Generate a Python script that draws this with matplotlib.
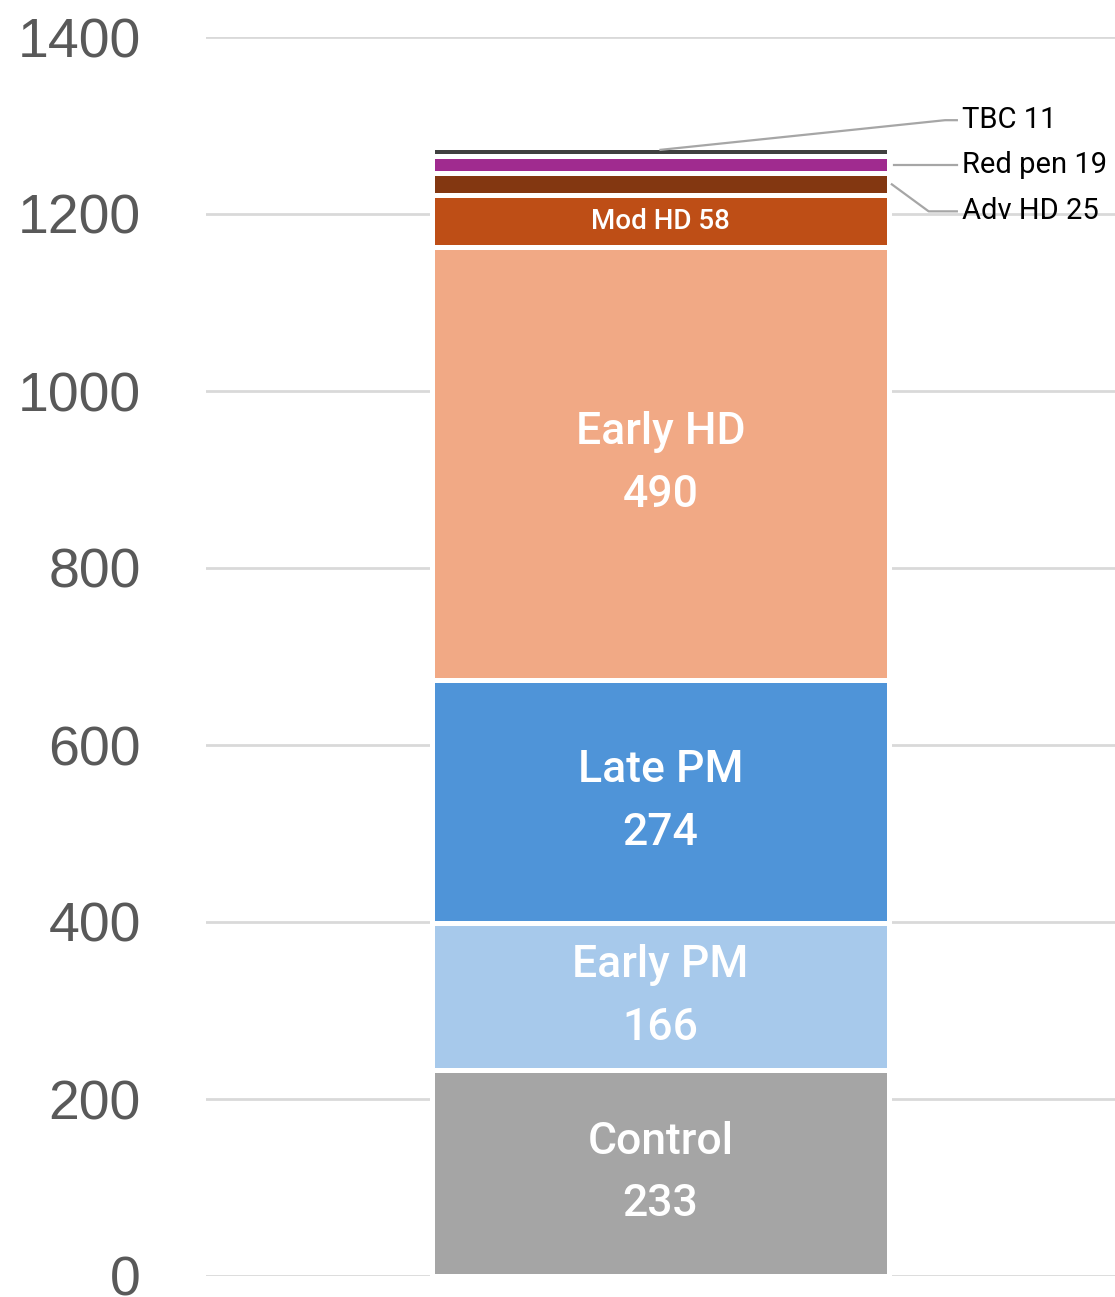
import matplotlib.pyplot as plt
import matplotlib.transforms as mtransforms

# dane z wykresu
kategorie = ["Control", "Early PM", "Late PM", "Early HD", "Mod HD", "Adv HD", "Red pen", "TBC"]
wartosci = [233, 166, 274, 490, 58, 25, 19, 11]
kolory = ["#A5A5A5", "#A7C9EB", "#4F94D8", "#F1A985", "#BE4E16", "#833711", "#A02B8F", "#404040"]
yticks = [0, 200, 400, 600, 800, 1000, 1200, 1400]

fig = plt.figure(figsize=(11.15, 12.97), dpi=100)
ax = fig.add_axes([206 / 1115, 21 / 1297, 909 / 1115, 1239 / 1297])

szer = 0.503
dol = 0
srodki = []
for k, v, c in zip(kategorie, wartosci, kolory):
    ax.bar(0, v, bottom=dol, width=szer, color=c, edgecolor="white", linewidth=3.6, zorder=3)
    srodki.append(dol + v / 2)
    dol += v

# etykiety w srodku slupka (duze)
for i in range(4):
    ax.text(0, srodki[i], f"{kategorie[i]}\n{wartosci[i]}", ha="center", va="center",
            color="white", fontsize=32, family="Roboto", fontweight="medium",
            linespacing=1.62, zorder=4)
ax.text(0, srodki[4], f"{kategorie[4]} {wartosci[4]}", ha="center", va="center",
        color="white", fontsize=20, family="Roboto", fontweight="medium", zorder=4)

# etykiety z liniami odniesienia
prawy = szer / 2
tx = 0.332
linia = "#A6A6A6"
# TBC
ax.plot([0, 0.313, 0.326], [srodki[7] + 2, 1306, 1306], color=linia, lw=1.6, zorder=4, clip_on=False)
ax.text(tx, 1306, f"{kategorie[7]} {wartosci[7]}", va="center", ha="left", fontsize=21, family="Roboto")
# Red pen
ax.plot([prawy + 0.005, 0.326], [srodki[6], srodki[6]], color=linia, lw=1.6, zorder=4)
ax.text(tx, srodki[6], f"{kategorie[6]} {wartosci[6]}", va="center", ha="left", fontsize=21, family="Roboto")
# Adv HD
ax.plot([prawy + 0.003, 0.295, 0.326], [srodki[5], 1203, 1203], color=linia, lw=1.6, zorder=4)
ax.text(tx, 1203, f"{kategorie[5]} {wartosci[5]}", va="center", ha="left", fontsize=21, family="Roboto")

ax.set_xlim(-0.5, 0.5)
ax.set_ylim(0, 1400)
ax.set_yticks(yticks)
ax.set_yticklabels([str(t) for t in yticks], fontsize=40, color="#595959", family="Liberation Sans")
przesun = mtransforms.ScaledTranslation(0, 3 / 72, fig.dpi_scale_trans)
for lab in ax.get_yticklabels():
    lab.set_transform(lab.get_transform() + przesun)
ax.set_xticks([])
ax.tick_params(axis="y", length=0, pad=47)
ax.grid(axis="y", color="#D9D9D9", linewidth=2, zorder=0)
for s in ax.spines.values():
    s.set_visible(False)

fig.savefig("out.png", dpi=100)
